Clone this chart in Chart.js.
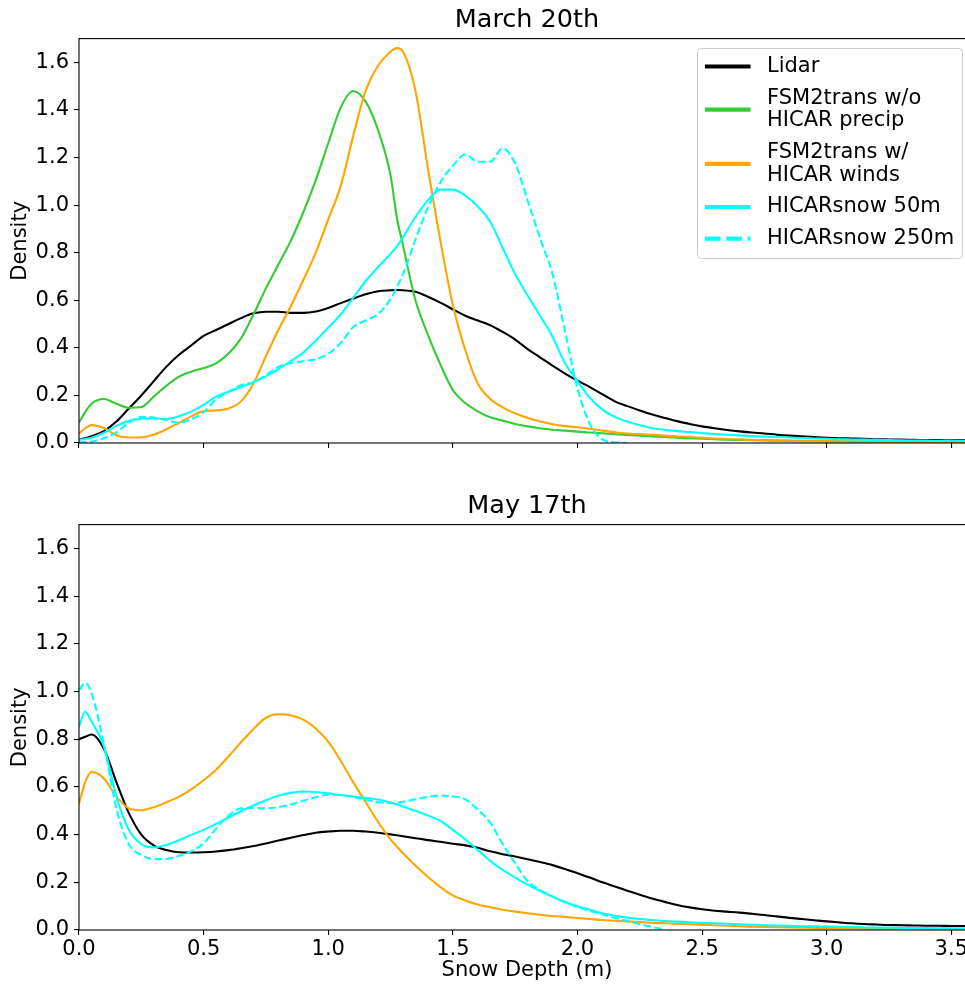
<!DOCTYPE html>
<html>
<head>
<meta charset="utf-8">
<title>Snow depth density</title>
<script src="https://cdn.jsdelivr.net/npm/chart.js@4.4.1/dist/chart.umd.min.js"></script>
<style>
  html, body { margin: 0; padding: 0; background: #fff; overflow: hidden; }
  #page { position: relative; width: 965px; height: 987px; overflow: hidden; }
  canvas { position: absolute; left: 0; }
</style>
</head>
<body>
<div id="page">
  <canvas id="march" width="975" height="487" style="top:0"></canvas>
  <canvas id="may" width="975" height="500" style="top:487px"></canvas>
</div>
<script>
const depth = [
  0, 0.025, 0.05, 0.1, 0.15, 0.2, 0.25, 0.3, 0.35, 0.4,
  0.45, 0.5, 0.55, 0.6, 0.65, 0.7, 0.75, 0.8, 0.85, 0.9,
  0.95, 1.0, 1.05, 1.1, 1.15, 1.2, 1.25, 1.275, 1.3, 1.35,
  1.4, 1.45, 1.5, 1.55, 1.6, 1.65, 1.7, 1.75, 1.8, 1.85,
  1.9, 1.95, 2.0, 2.05, 2.1, 2.15, 2.2, 2.25, 2.3, 2.35,
  2.4, 2.45, 2.5, 2.55, 2.6, 2.65, 2.7, 2.75, 2.8, 2.85,
  2.9, 2.95, 3.0, 3.05, 3.1, 3.15, 3.2, 3.25, 3.3, 3.35,
  3.4, 3.45, 3.5, 3.55, 3.6
];

const seriesNames = [
  "Lidar",
  "FSM2trans w/o\nHICAR precip",
  "FSM2trans w/\nHICAR winds",
  "HICARsnow 50m",
  "HICARsnow 250m"
];

const xTicks = [0, 0.5, 1.0, 1.5, 2.0, 2.5, 3.0, 3.5];
const yTicks = [0, 0.2, 0.4, 0.6, 0.8, 1.0, 1.2, 1.4, 1.6];

// March 20th
const marchLidar = [
  0.015, 0.02, 0.028, 0.05, 0.09, 0.145, 0.2, 0.26, 0.32, 0.37,
  0.41, 0.45, 0.475, 0.5, 0.525, 0.545, 0.552, 0.552, 0.547, 0.547,
  0.553, 0.568, 0.588, 0.607, 0.625, 0.638, 0.642, 0.643, 0.642, 0.636,
  0.615, 0.59, 0.562, 0.535, 0.515, 0.495, 0.467, 0.435, 0.395, 0.36,
  0.325, 0.292, 0.262, 0.235, 0.205, 0.175, 0.155, 0.137, 0.12, 0.105,
  0.092, 0.08, 0.07, 0.062, 0.055, 0.049, 0.044, 0.04, 0.035, 0.031,
  0.028, 0.025, 0.022, 0.02, 0.019, 0.018, 0.016, 0.015, 0.014, 0.013,
  0.012, 0.012, 0.011, 0.011, 0.01
];
const marchNoPrecip = [
  0.086, 0.13, 0.165, 0.185, 0.165, 0.148, 0.151, 0.195, 0.24, 0.278,
  0.3, 0.315, 0.335, 0.376, 0.44, 0.54, 0.65, 0.75, 0.85, 0.97,
  1.105, 1.26, 1.41, 1.48, 1.435, 1.315, 1.125, 0.95, 0.83, 0.6,
  0.455, 0.33, 0.222, 0.168, 0.133, 0.108, 0.094, 0.08, 0.07, 0.062,
  0.056, 0.052, 0.048, 0.044, 0.041, 0.037, 0.034, 0.031, 0.028, 0.025,
  0.022, 0.02, 0.018, 0.016, 0.014, 0.013, 0.012, 0.011, 0.01, 0.009,
  0.008, 0.008, 0.007, 0.007, 0.006, 0.006, 0.005, 0.005, 0.005, 0.004,
  0.004, 0.004, 0.004, 0.003, 0.003
];
const marchWinds = [
  0.039, 0.062, 0.075, 0.063, 0.033, 0.023, 0.024, 0.035, 0.057, 0.084,
  0.112, 0.134, 0.137, 0.145, 0.175, 0.25, 0.365, 0.475, 0.575, 0.685,
  0.8, 0.94, 1.08, 1.29, 1.48, 1.587, 1.645, 1.66, 1.645, 1.48,
  1.155, 0.85, 0.58, 0.39, 0.25, 0.185, 0.15, 0.125, 0.105, 0.09,
  0.079, 0.071, 0.066, 0.06, 0.052, 0.045, 0.04, 0.037, 0.034, 0.031,
  0.028, 0.025, 0.022, 0.019, 0.017, 0.015, 0.013, 0.012, 0.011, 0.01,
  0.009, 0.008, 0.008, 0.007, 0.007, 0.006, 0.006, 0.005, 0.005, 0.005,
  0.004, 0.004, 0.004, 0.004, 0.004
];
const marchSnow50 = [
  0.014, 0.017, 0.022, 0.043, 0.072, 0.093, 0.102, 0.103, 0.101, 0.112,
  0.132, 0.16, 0.195, 0.215, 0.235, 0.255, 0.28, 0.31, 0.345, 0.38,
  0.43, 0.485, 0.54, 0.61, 0.68, 0.74, 0.795, 0.825, 0.865, 0.95,
  1.02, 1.065, 1.065, 1.04, 0.995, 0.93, 0.82, 0.71, 0.62, 0.535,
  0.447, 0.335, 0.26, 0.19, 0.14, 0.11, 0.09, 0.075, 0.062, 0.056,
  0.05, 0.046, 0.042, 0.038, 0.035, 0.032, 0.029, 0.027, 0.025, 0.023,
  0.021, 0.019, 0.018, 0.016, 0.015, 0.014, 0.013, 0.012, 0.011, 0.01,
  0.01, 0.009, 0.009, 0.008, 0.008
];
const marchSnow250 = [
  0.003, 0.004, 0.006, 0.02, 0.045, 0.085, 0.11, 0.107, 0.097, 0.085,
  0.1, 0.13, 0.183, 0.215, 0.243, 0.256, 0.285, 0.32, 0.336, 0.344,
  0.353, 0.375, 0.42, 0.487, 0.515, 0.542, 0.605, 0.655, 0.71, 0.855,
  0.99, 1.095, 1.165, 1.213, 1.182, 1.183, 1.238, 1.175, 1.02, 0.86,
  0.71, 0.47, 0.23, 0.08, 0.015, 0.003, 0.0
];

// May 17th
const mayLidar = [
  0.8, 0.81, 0.82, 0.76, 0.62, 0.49, 0.4, 0.355, 0.335, 0.326,
  0.325, 0.326, 0.329, 0.335, 0.343, 0.352, 0.363, 0.375, 0.387, 0.398,
  0.408, 0.413, 0.416, 0.416, 0.413, 0.408, 0.401, 0.397, 0.393, 0.385,
  0.377, 0.37, 0.362, 0.355, 0.345, 0.33, 0.318, 0.308, 0.297, 0.285,
  0.272, 0.256, 0.238, 0.22, 0.2, 0.182, 0.165, 0.148, 0.132, 0.118,
  0.105, 0.095, 0.087, 0.081, 0.077, 0.073, 0.068, 0.063, 0.057, 0.051,
  0.046, 0.041, 0.036, 0.032, 0.028, 0.025, 0.023, 0.021, 0.02, 0.019,
  0.018, 0.018, 0.017, 0.017, 0.017
];
const mayWinds = [
  0.53, 0.62, 0.663, 0.635, 0.56, 0.51, 0.502, 0.515, 0.535, 0.558,
  0.59, 0.628, 0.672, 0.728, 0.787, 0.843, 0.89, 0.905, 0.9, 0.882,
  0.845, 0.79, 0.71, 0.62, 0.537, 0.453, 0.38, 0.35, 0.322, 0.27,
  0.222, 0.18, 0.145, 0.124, 0.107, 0.095, 0.085, 0.077, 0.07, 0.064,
  0.059, 0.055, 0.05, 0.046, 0.042, 0.039, 0.036, 0.033, 0.03, 0.028,
  0.026, 0.024, 0.022, 0.02, 0.018, 0.016, 0.014, 0.013, 0.012, 0.011,
  0.01, 0.009, 0.009, 0.008, 0.008, 0.007, 0.007, 0.006, 0.006, 0.006,
  0.005, 0.005, 0.005, 0.005, 0.005
];
const maySnow50 = [
  0.852, 0.915, 0.875, 0.77, 0.56, 0.42, 0.36, 0.346, 0.356, 0.376,
  0.399, 0.42, 0.445, 0.472, 0.498, 0.522, 0.544, 0.563, 0.575, 0.581,
  0.579, 0.573, 0.566, 0.56, 0.554, 0.547, 0.535, 0.527, 0.518, 0.5,
  0.48, 0.458, 0.42, 0.38, 0.335, 0.29, 0.252, 0.22, 0.19, 0.163,
  0.14, 0.117, 0.1, 0.085, 0.07, 0.06, 0.052, 0.046, 0.042, 0.038,
  0.035, 0.032, 0.03, 0.028, 0.026, 0.024, 0.022, 0.02, 0.019, 0.018,
  0.016, 0.015, 0.014, 0.013, 0.012, 0.011, 0.01, 0.01, 0.009, 0.008,
  0.008, 0.007, 0.007, 0.006, 0.006
];
const maySnow250 = [
  1.005, 1.036, 0.995, 0.78, 0.51, 0.36, 0.315, 0.297, 0.298, 0.31,
  0.33, 0.363, 0.425, 0.48, 0.51, 0.512, 0.51, 0.515, 0.526, 0.542,
  0.557, 0.567, 0.567, 0.558, 0.546, 0.536, 0.532, 0.533, 0.538, 0.548,
  0.558, 0.564, 0.56, 0.548, 0.505, 0.45, 0.36, 0.28, 0.205, 0.168,
  0.14, 0.116, 0.097, 0.08, 0.065, 0.051, 0.038, 0.025, 0.012, 0.003
];

// line look per series, same order as seriesNames
const styles = [
  { color: "#000000", dash: [] },
  { color: "#32cd32", dash: [] },
  { color: "#ffa500", dash: [] },
  { color: "#00ffff", dash: [] },
  { color: "#00ffff", dash: [7.7, 3.3] }
];

Chart.defaults.font.family = "'DejaVu Sans', sans-serif";
Chart.defaults.color = "#000";

function toPoints(values) {
  return values.map((v, i) => ({ x: depth[i], y: v }));
}

function buildDatasets(curves) {
  return curves.map((values, i) => ({
    label: seriesNames[i].replace("\n", " "),
    data: toPoints(values),
    borderColor: styles[i].color,
    borderDash: styles[i].dash,
    borderWidth: 2.1,
    pointRadius: 0,
    cubicInterpolationMode: "monotone",
    fill: false,
    order: curves.length - i   // later series on top, like matplotlib
  }));
}

// black box round the plot area
const frame = {
  id: "frame",
  afterDatasetsDraw(chart) {
    const { ctx, chartArea: a } = chart;
    ctx.save();
    ctx.strokeStyle = "#000";
    ctx.lineWidth = 1.1;
    ctx.strokeRect(a.left, a.top, a.right - a.left, a.bottom - a.top);
    ctx.restore();
  }
};

// legend box with two-line labels
const boxLegend = {
  id: "boxLegend",
  afterDraw(chart, args, opts) {
    if (!opts.show) return;
    const ctx = chart.ctx;
    ctx.save();
    ctx.beginPath();
    ctx.roundRect(697.5, 48.5, 265, 210, 4);
    ctx.fillStyle = "rgba(255,255,255,0.8)";
    ctx.fill();
    ctx.strokeStyle = "#cccccc";
    ctx.lineWidth = 1;
    ctx.stroke();

    ctx.font = "21px 'DejaVu Sans'";
    ctx.textBaseline = "middle";
    ctx.textAlign = "left";
    let y = 66.5;
    seriesNames.forEach((name, i) => {
      const lines = name.split("\n");
      const mid = y + (lines.length - 1) * 22.7 / 2;
      ctx.beginPath();
      ctx.setLineDash(styles[i].dash.length ? [15.5, 5.8] : []);
      ctx.strokeStyle = styles[i].color;
      ctx.lineWidth = 4.2;
      ctx.moveTo(705, mid);
      ctx.lineTo(750.5, mid);
      ctx.stroke();
      ctx.setLineDash([]);
      ctx.fillStyle = "#000";
      lines.forEach((t, k) => ctx.fillText(t, 767, y + k * 22.7));
      y += (lines.length - 1) * 22.7 + 31.7;
    });
    ctx.restore();
  }
};

function makeChart(id, title, curves, opts) {
  return new Chart(document.getElementById(id), {
    type: "line",
    data: { datasets: buildDatasets(curves) },
    options: {
      responsive: false,
      animation: false,
      devicePixelRatio: 1,
      layout: { padding: 0 },
      plugins: {
        legend: { display: false },
        tooltip: { enabled: false },
        title: {
          display: true,
          fullSize: false,
          text: title,
          color: "#000",
          font: { size: 25.5, weight: "normal" },
          padding: opts.titlePad
        },
        boxLegend: { show: opts.legend }
      },
      scales: {
        x: {
          type: "linear",
          min: 0,
          max: 3.595,
          afterBuildTicks: s => { s.ticks = xTicks.map(v => ({ value: v })); },
          afterFit: s => { s.height = opts.xHeight; },
          grid: { drawOnChartArea: false, drawTicks: true, tickLength: 5, color: "#000", lineWidth: 1.1 },
          border: { display: false },
          ticks: {
            display: opts.xLabels,
            padding: 1.5,
            color: "#000",
            font: { size: 21 },
            maxRotation: 0,
            autoSkip: false,
            callback: v => v.toFixed(1)
          },
          title: {
            display: opts.xLabels,
            text: "Snow Depth (m)",
            color: "#000",
            font: { size: 21 },
            padding: { top: 0, bottom: 3.5 }
          }
        },
        y: {
          min: 0,
          max: 1.7,
          afterBuildTicks: s => { s.ticks = yTicks.map(v => ({ value: v })); },
          afterFit: s => { s.width = 79; },
          grid: { drawOnChartArea: false, drawTicks: true, tickLength: 5, color: "#000", lineWidth: 1.1 },
          border: { display: false },
          ticks: {
            padding: 5,
            color: "#000",
            font: { size: 21 },
            callback: v => v.toFixed(1)
          },
          title: {
            display: true,
            text: "Density",
            color: "#000",
            font: { size: 21 },
            padding: { top: 7.5, bottom: 0 }
          }
        }
      }
    },
    plugins: [frame, boxLegend]
  });
}

makeChart("march", "March 20th",
  [marchLidar, marchNoPrecip, marchWinds, marchSnow50, marchSnow250],
  { legend: true, xLabels: false, xHeight: 44, titlePad: { top: 5, bottom: 3 } });

makeChart("may", "May 17th",
  [mayLidar, [], mayWinds, maySnow50, maySnow250],
  { legend: false, xLabels: true, xHeight: 57, titlePad: { top: 4.5, bottom: 2.5 } });
</script>
</body>
</html>
